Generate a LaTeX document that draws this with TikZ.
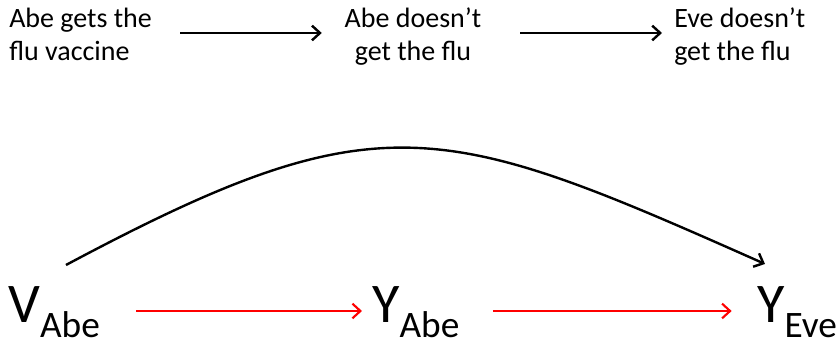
\documentclass[tikz,border=0pt]{standalone}
\usepackage{fontspec}
\setmainfont{Carlito}
\usetikzlibrary{arrows.meta}

\newcommand{\varsub}[2]{#1\raisebox{-11pt}{\fontsize{28}{32}\selectfont #2}}

\begin{document}
\begin{tikzpicture}[x=0.75pt, y=0.75pt]
\tikzset{
        lbl/.style={inner sep=0pt, font=\fontsize{21}{24.75}\selectfont},
        var/.style={inner sep=0pt, anchor=base west, font=\fontsize{42}{48}\selectfont},
        cause/.style={line width=1.8pt, -{Straight Barb[length=6pt,width=11pt]}},
        redcause/.style={red, line width=1.6pt, -{Straight Barb[length=6pt,width=11pt]}},
    }
  \useasboundingbox (0,0) rectangle (840,341);
  \coordinate (toprow) at (0,308);
  \coordinate (botrow) at (0,30);
  \node[lbl, align=left, anchor=north west] (vaccine) at (9,333) {Abe gets the\\flu vaccine};
  \node[lbl, align=center, anchor=north] (abeflu) at (413,333) {Abe doesn’t\\get the flu};
  \node[lbl, align=left, anchor=north west] (eveflu) at (674,333) {Eve doesn’t\\get the flu};
  \draw[cause] ([xshift=21pt]vaccine.east |- toprow) -- ([xshift=-17pt]abeflu.west |- toprow);
  \draw[cause] ([xshift=29pt]abeflu.east |- toprow) -- ([xshift=-9pt]eveflu.west |- toprow);
  \node[var] (vabe) at (8,18) {\varsub{V}{Abe}};
  \node[var] (yabe) at (372,18.5) {\varsub{Y}{Abe}};
  \node[var] (yeve) at (757,18.5) {\varsub{Y}{Eve}};
  \draw[redcause] ([xshift=27pt]vabe.east |- botrow) -- ([xshift=-7.5pt]yabe.west |- botrow);
  \draw[redcause] ([xshift=25pt]yabe.east |- botrow) -- ([xshift=-19pt]yeve.west |- botrow);
  \coordinate (arcstart) at (66,76);
  \coordinate (arcend) at (765,77);
  \draw[cause] (arcstart) .. controls (379,243) and (441,221) .. (arcend);
\end{tikzpicture}
\end{document}
